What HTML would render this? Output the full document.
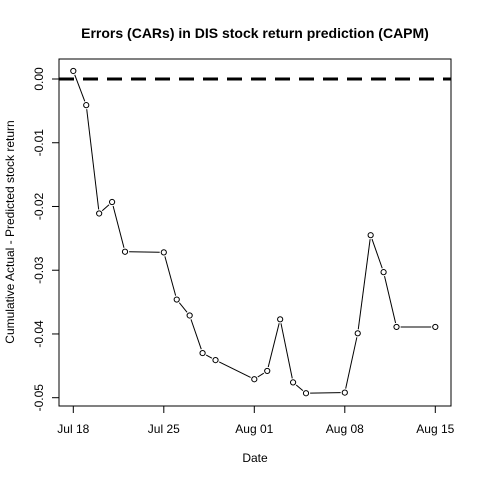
<!DOCTYPE html>
<html><head><meta charset="utf-8"><style>body{margin:0;background:#fff}svg{display:block}</style></head>
<body>
<svg width="480" height="480" viewBox="0 0 480 480" xmlns="http://www.w3.org/2000/svg" font-family="Liberation Sans, Arial, sans-serif">
<rect width="480" height="480" fill="#fff"/>
<g id="g"></g>
</svg>
<script>
const days = [0,1,2,3,4,7,8,9,10,11,14,15,16,17,18,21,22,23,24,25,28];
const values = [0.00126,-0.0041,-0.0211,-0.0193,-0.0271,-0.0272,-0.0346,-0.0371,-0.0430,-0.0441,-0.0471,-0.0458,-0.0377,-0.0476,-0.0493,-0.0492,-0.0399,-0.0245,-0.0303,-0.0389,-0.0389];
const yTicks = [0,-0.01,-0.02,-0.03,-0.04,-0.05];
const yTickLabels = ["0.00","-0.01","-0.02","-0.03","-0.04","-0.05"];
const xTickDays = [0,7,14,21,28];
const xTickLabels = ["Jul 18","Jul 25","Aug 01","Aug 08","Aug 15"];

const NS="http://www.w3.org/2000/svg";
const g=document.getElementById('g');
const X=d=>73.3+d*(435.3-73.3)/28;
const Y=v=>79-v*(397.7-79)/0.05;
function mk(t,a,p){const e=document.createElementNS(NS,t);for(const k in a)e.setAttribute(k,a[k]);(p||g).appendChild(e);return e;}

const box=mk('rect',{x:59,y:59,width:392,height:347,fill:'none',stroke:'#000','stroke-width':1});



const ref=mk('line',{x1:59,x2:451,y1:Y(0),y2:Y(0),stroke:'#000','stroke-width':3,'stroke-dasharray':'15,9'});



yTicks.forEach((v,i)=>{
  const y=Y(v);
  const t=mk('line',{x1:52,x2:59,y1:y,y2:y,stroke:'#000'});
  
  
  const l=mk('text',{x:0,y:0,'font-size':12,'text-anchor':'middle',transform:`translate(43,${y}) rotate(-90)`});
  l.textContent=yTickLabels[i];
  
  
});
xTickDays.forEach((d,i)=>{
  const x=X(d);
  const t=mk('line',{x1:x,x2:x,y1:406,y2:413,stroke:'#000'});
  
  
  const l=mk('text',{x:x,y:433,'font-size':12,'text-anchor':'middle'});
  l.textContent=xTickLabels[i];
  
  
});

const r=2.6;
for(let i=0;i<days.length-1;i++){
  const x1=X(days[i]),y1=Y(values[i]),x2=X(days[i+1]),y2=Y(values[i+1]);
  const dx=x2-x1,dy=y2-y1,L=Math.hypot(dx,dy);
  if(L<2*r+1)continue;
  const ux=dx/L,uy=dy/L,gap=r+1.5;
  const s=mk('line',{x1:x1+ux*gap,y1:y1+uy*gap,x2:x2-ux*gap,y2:y2-uy*gap,stroke:'#000','stroke-width':1});
  
  
}
days.forEach((d,i)=>{
  const c=mk('circle',{cx:X(d),cy:Y(values[i]),r:r,fill:'none',stroke:'#000','stroke-width':1});
  
  
});

const title=mk('text',{x:255,y:38,'font-size':14,'font-weight':'bold','text-anchor':'middle'});
title.textContent='Errors (CARs) in DIS stock return prediction (CAPM)';


const xt=mk('text',{x:255,y:462,'font-size':12,'text-anchor':'middle'});
xt.textContent='Date';


const yt=mk('text',{x:0,y:0,'font-size':12,'text-anchor':'middle',transform:'translate(14,232) rotate(-90)'});
yt.textContent='Cumulative Actual - Predicted stock return';


</script>
</body></html>
